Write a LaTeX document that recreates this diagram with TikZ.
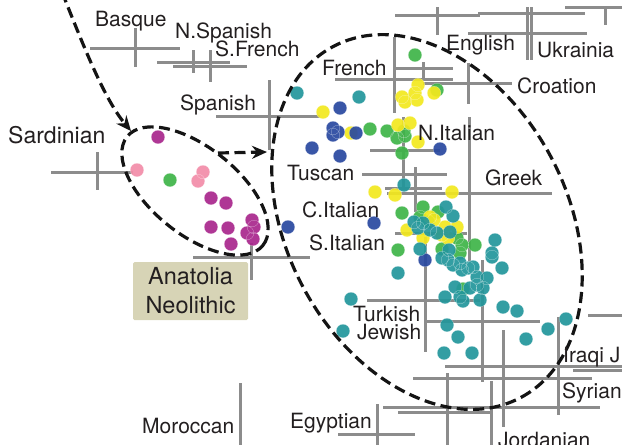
\documentclass[tikz,border=0pt]{standalone}
\usepackage{fontspec}
\setmainfont{TeX Gyre Heros}
\usepackage{xcolor}
\usepackage{tikz}
\usetikzlibrary{arrows.meta,shapes.geometric}
\definecolor{barcol}{RGB}{140,140,140}
\definecolor{inkcol}{RGB}{35,31,32}
\definecolor{boxfill}{RGB}{215,212,182}
\definecolor{dotmagenta}{RGB}{168,38,140}
\definecolor{dotpink}{RGB}{242,140,168}
\definecolor{dotgreen}{RGB}{62,180,72}
\definecolor{dotyellow}{RGB}{242,232,30}
\definecolor{dotteal}{RGB}{34,150,155}
\definecolor{dotblue}{RGB}{40,72,160}

\begin{document}
\begin{tikzpicture}[x=1pt, y=-1pt,
  errbar/.style={barcol, line width=3pt},
  popdot/.style={draw=white, draw opacity=0.5, line width=0.3pt, fill opacity=0.92},
  dashline/.style={draw=black!92, line width=3.2pt, dash pattern=on 11pt off 5.5pt},
  dasharrow/.style={dashline, -{Stealth[length=15pt, width=13pt]}},
  poplabel/.style={text=inkcol, font=\fontsize{21}{24}\selectfont, inner sep=0pt, anchor=base west}]
  \useasboundingbox (0,0) rectangle (622,445);
  \clip (0,0) rectangle (622,445);
  % horizontal error bars
  \draw[errbar] (90,48) -- (180,48);
  \draw[errbar] (157,62) -- (230,62);
  \draw[errbar] (173,66) -- (247,66);
  \draw[errbar] (216,116) -- (320,116);
  \draw[errbar] (51,172) -- (133,172);
  \draw[errbar] (395,15) -- (480,15);
  \draw[errbar] (478,13) -- (585,13);
  \draw[errbar] (565,7) -- (622,7);
  \draw[errbar] (468,33) -- (587,33);
  \draw[errbar] (393,68) -- (453,68);
  \draw[errbar] (335,79) -- (453,79);
  \draw[errbar] (423,83) -- (512,83);
  \draw[errbar] (370,150) -- (440,150);
  \draw[errbar] (362,174) -- (447,174);
  \draw[errbar] (385,188) -- (442,188);
  \draw[errbar] (387,193) -- (552,193);
  \draw[errbar] (395,233) -- (467,233);
  \draw[errbar] (193,257) -- (310,257);
  \draw[errbar] (367,300) -- (480,300);
  \draw[errbar] (425,321) -- (540,321);
  \draw[errbar] (588,315) -- (622,315);
  \draw[errbar] (445,366) -- (622,366);
  \draw[errbar] (573,370) -- (622,370);
  \draw[errbar] (413,378) -- (592,378);
  \draw[errbar] (383,407) -- (600,407);
  \draw[errbar] (398,412) -- (493,412);
  \draw[errbar] (338,434) -- (415,434);
  % vertical error bars
  \draw[errbar] (135,28) -- (135,67);
  \draw[errbar] (193,50) -- (193,73);
  \draw[errbar] (210,50) -- (210,82);
  \draw[errbar] (269,80) -- (269,150);
  \draw[errbar] (97,152) -- (97,190);
  \draw[errbar] (437,7) -- (437,35);
  \draw[errbar] (527,7) -- (527,60);
  \draw[errbar] (531,7) -- (531,60);
  \draw[errbar] (605,8) -- (605,25);
  \draw[errbar] (394,37) -- (394,113);
  \draw[errbar] (423,62) -- (423,80);
  \draw[errbar] (468,63) -- (468,104);
  \draw[errbar] (469,117) -- (469,262);
  \draw[errbar] (403,117) -- (403,187);
  \draw[errbar] (415,167) -- (415,212);
  \draw[errbar] (251,243) -- (251,280);
  \draw[errbar] (425,237) -- (425,352);
  \draw[errbar] (482,260) -- (482,382);
  \draw[errbar] (503,330) -- (503,427);
  \draw[errbar] (558,317) -- (558,415);
  \draw[errbar] (447,373) -- (447,445);
  \draw[errbar] (491,381) -- (491,445);
  \draw[errbar] (377,404) -- (377,445);
  \draw[errbar] (240,383) -- (240,445);
  % samples
  \path[popdot, fill=dotmagenta] (158,137) circle (6.8) (211,198) circle (6.8) (226,203) circle (6.8)
    (211,227) circle (6.8) (228,228) circle (6.8) (231,244) circle (6.8) (252,220) circle (6.8)
    (254,227) circle (6.8) (247,233) circle (6.8) (253,239) circle (6.8);
  \path[popdot, fill=dotpink] (137,170) circle (6.8) (203,172) circle (6.8) (198,181) circle (6.8);
  \path[popdot, fill=dotgreen] (170,180) circle (6.8) (415,55) circle (6.8) (437,90) circle (6.8)
    (370,129) circle (6.8) (387,131) circle (6.8) (404,131) circle (6.8) (397,138) circle (6.8)
    (405,136) circle (6.8) (402,153) circle (6.8) (423,207) circle (6.8) (402,213) circle (6.8)
    (438,212) circle (6.8) (420,217) circle (6.8) (428,222) circle (6.8) (457,238) circle (6.8)
    (462,245) circle (6.8) (475,245) circle (6.8) (398,250) circle (6.8) (442,249) circle (6.8)
    (460,253) circle (6.8) (463,289) circle (6.8);
  \path[popdot, fill=dotyellow] (418,85) circle (6.8) (415,93) circle (6.8) (402,97) circle (6.8)
    (405,102) circle (6.8) (417,100) circle (6.8) (434,93) circle (6.8) (323,112) circle (6.8)
    (351,133) circle (6.8) (398,125) circle (6.8) (410,123) circle (6.8) (418,142) circle (6.8)
    (375,192) circle (6.8) (395,195) circle (6.8) (452,192) circle (6.8) (430,217) circle (6.8)
    (434,220) circle (6.8) (407,230) circle (6.8) (445,227) circle (6.8) (457,227) circle (6.8)
    (442,235) circle (6.8) (448,238) circle (6.8) (423,238) circle (6.8);
  \path[popdot, fill=dotblue] (340,108) circle (6.8) (333,128) circle (6.8) (333,135) circle (6.8)
    (338,132) circle (6.8) (356,133) circle (6.8) (312,148) circle (6.8) (340,156) circle (6.8)
    (440,149) circle (6.8) (374,223) circle (6.8) (288,227) circle (6.8) (425,260) circle (6.8);
  \path[popdot, fill=dotteal] (297,93) circle (6.8) (359,97) circle (6.8) (404,185) circle (6.8)
    (446,207) circle (6.8) (453,216) circle (6.8) (414,222) circle (6.8) (423,223) circle (6.8)
    (418,228) circle (6.8) (430,230) circle (6.8) (437,233) circle (6.8) (450,232) circle (6.8)
    (495,240) circle (6.8) (420,249) circle (6.8) (449,250) circle (6.8) (492,253) circle (6.8)
    (492,257) circle (6.8) (442,258) circle (6.8) (448,260) circle (6.8) (453,265) circle (6.8)
    (460,263) circle (6.8) (462,270) circle (6.8) (468,268) circle (6.8) (473,267) circle (6.8)
    (502,268) circle (6.8) (398,273) circle (6.8) (477,277) circle (6.8) (487,278) circle (6.8)
    (477,285) circle (6.8) (483,288) circle (6.8) (455,287) circle (6.8) (470,288) circle (6.8)
    (445,297) circle (6.8) (460,297) circle (6.8) (351,299) circle (6.8) (343,331) circle (6.8)
    (463,301) circle (6.8) (480,300) circle (6.8) (503,307) circle (6.8) (517,311) circle (6.8)
    (447,325) circle (6.8) (458,337) circle (6.8) (444,353) circle (6.8) (472,353) circle (6.8)
    (526,339) circle (6.8) (548,329) circle (6.8) (566,319) circle (6.8);
  % groupings
  \node[dashline, ellipse, rotate=-38.7, minimum width=174pt, minimum height=87pt, inner sep=0pt] (neoring) at (195,191) {};
  \node[dashline, ellipse, rotate=-61.7, minimum width=398pt, minimum height=280pt, inner sep=0pt] (euroring) at (427,222) {};
  \coordinate (arrtop) at (62,-8);
  \coordinate (arrsard) at (131,131);
  \coordinate (arrfrom) at (218,153);
  \coordinate (arrto) at (267,152);
  \draw[dasharrow] (arrtop) .. controls (85,50) and (105,100) .. (arrsard);
  \draw[dasharrow] (arrfrom) -- (arrto);
  % population labels
  \node[poplabel] (lbasque) at (95,26) {Basque};
  \node[poplabel] (lnspanish) at (175,38) {N.Spanish};
  \node[poplabel] (lsfrench) at (215,56) {S.French};
  \node[poplabel] (lenglish) at (446,50) {English};
  \node[poplabel] (lukrainian) at (537,57) {Ukrainia};
  \node[poplabel] (lfrench) at (322,75) {French};
  \node[poplabel] (lcroation) at (517,93) {Croation};
  \node[poplabel] (lspanish) at (180,110) {Spanish};
  \node[poplabel, font=\fontsize{23}{26}\selectfont] (lsardinian) at (8,143) {Sardinian};
  \node[poplabel] (lnitalian) at (418,140) {N.Italian};
  \node[poplabel] (ltuscan) at (287,180) {Tuscan};
  \node[poplabel] (lgreek) at (485,185) {Greek};
  \node[poplabel] (lcitalian) at (302,217) {C.Italian};
  \node[poplabel] (lsitalian) at (309,250) {S.Italian};
  \node[poplabel] (lturkish) at (353,321) {Turkish};
  \node[poplabel] (ljewish) at (357,339) {Jewish};
  \node[poplabel] (liraqi) at (563,362) {Iraqi J};
  \node[poplabel] (lsyrian) at (562,398) {Syrian};
  \node[poplabel] (legyptian) at (290,428) {Egyptian};
  \node[poplabel] (lmoroccan) at (142,433) {Moroccan};
  \node[poplabel] (ljordanian) at (498,447) {Jordanian};
  \node[fill=boxfill, rounded corners=1.5pt, minimum width=115pt, minimum height=58pt, inner sep=0pt,
    align=center, text=inkcol, font=\fontsize{23.5}{29}\selectfont] (anatolia) at (190.5,291) {Anatolia\\Neolithic};
\end{tikzpicture}
\end{document}
